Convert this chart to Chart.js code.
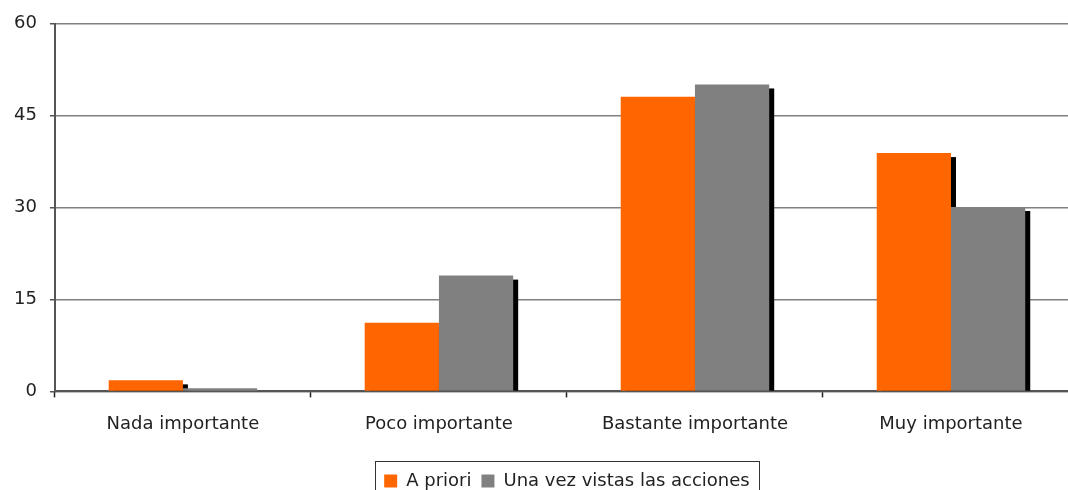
<!DOCTYPE html>
<html>
<head>
<meta charset="utf-8">
<script src="https://cdn.jsdelivr.net/npm/chart.js@4/dist/chart.umd.min.js"></script>
<style>
  body { margin: 0; overflow: hidden; background: #fff; }
</style>
</head>
<body>
<canvas id="myChart" width="1134" height="500"></canvas>
<script>
const categories = ['Nada importante', 'Poco importante', 'Bastante importante', 'Muy importante'];
const aPriori = [1.8, 11.2, 48.1, 38.9];
const vistas = [0.5, 18.9, 50.1, 30.1];
const seriesNames = ['A priori', 'Una vez vistas las acciones'];
const yTicks = [0, 15, 30, 45, 60];

// black drop shadow behind each bar
const barShadow = {
    id: 'barShadow',
    beforeDatasetsDraw(chart) {
        const ctx = chart.ctx;
        const area = chart.chartArea;
        ctx.save();
        ctx.beginPath();
        ctx.rect(area.left, area.top, area.right - area.left, area.bottom - area.top);
        ctx.clip();
        ctx.fillStyle = '#000';
        chart.data.datasets.forEach(function(ds, i) {
            chart.getDatasetMeta(i).data.forEach(function(bar) {
                const h = bar.base - bar.y - 4;
                if (h > 0) ctx.fillRect(bar.x - bar.width / 2 + 5, bar.y + 4, bar.width, h);
            });
        });
        ctx.restore();
    }
};

// centre the legend under the plot, not under the canvas
const centreLegend = {
    id: 'centreLegend',
    afterLayout(chart) {
        const l = chart.legend;
        const d = (chart.chartArea.left + chart.chartArea.right) / 2 - (l.left + l.right) / 2;
        l.left += d;
        l.right += d;
    }
};

// frame round the legend
const legendBox = {
    id: 'legendBox',
    afterDraw(chart) {
        const boxes = chart.legend.legendHitBoxes;
        if (!boxes || !boxes.length) return;
        let left = Infinity, right = -Infinity, top = Infinity;
        boxes.forEach(function(b) {
            left = Math.min(left, b.left);
            right = Math.max(right, b.left + b.width);
            top = Math.min(top, b.top);
        });
        const ctx = chart.ctx;
        ctx.save();
        ctx.strokeStyle = '#333';
        ctx.lineWidth = 1;
        ctx.strokeRect(Math.round(left - 9) + 0.5, Math.round(top - 11) + 0.5, Math.round(right - left + 18), 60);
        ctx.restore();
    }
};

const ctx = document.getElementById('myChart').getContext('2d');
new Chart(ctx, {
    type: 'bar',
    data: {
        labels: categories,
        datasets: [{
            label: seriesNames[0],
            data: aPriori,
            backgroundColor: '#ff6600',
            borderWidth: 0
        }, {
            label: seriesNames[1],
            data: vistas,
            backgroundColor: '#808080',
            borderWidth: 0
        }]
    },
    options: {
        responsive: false,
        animation: false,
        datasets: {
            bar: { categoryPercentage: 0.58, barPercentage: 1.0 }
        },
        layout: {
            padding: { left: 1, right: 55, top: 22, bottom: 0 }
        },
        plugins: {
            tooltip: { enabled: false },
            legend: {
                position: 'bottom',
                labels: {
                    boxWidth: 13,
                    boxHeight: 13,
                    padding: 10,
                    color: '#222',
                    font: { family: 'DejaVu Sans', size: 18 }
                }
            }
        },
        scales: {
            x: {
                afterFit: function(scale) { scale.height += 11; },
                grid: {
                    offset: true,
                    drawOnChartArea: false,
                    tickLength: 6,
                    tickColor: '#222',
                    tickWidth: 1.5
                },
                border: { color: '#555', width: 2 },
                ticks: {
                    color: '#222',
                    padding: 16,
                    font: { family: 'DejaVu Sans', size: 18 }
                }
            },
            y: {
                min: 0,
                max: 60,
                afterBuildTicks: function(scale) {
                    scale.ticks = yTicks.map(function(v) { return { value: v }; });
                },
                grid: {
                    color: '#808080',
                    lineWidth: 1.5,
                    tickLength: 5,
                    tickColor: '#555'
                },
                border: { color: '#555', width: 2 },
                ticks: {
                    color: '#222',
                    padding: 13,
                    font: { family: 'DejaVu Sans', size: 18 }
                }
            }
        }
    },
    plugins: [barShadow, centreLegend, legendBox]
});
</script>
</body>
</html>
